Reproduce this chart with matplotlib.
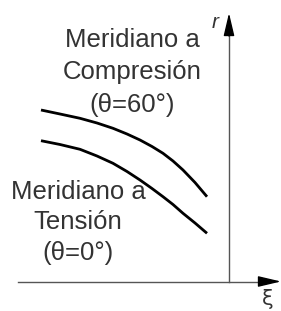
import matplotlib.pyplot as plt
import numpy as np

# curve points, in pixel coords (x right, y down)
curve_x = [41, 60, 80, 97, 113, 127, 140, 152, 163, 173, 183, 195, 207]
upper_y = [110, 114, 118.3, 123, 128.3, 134, 140, 146.5, 153.3, 161, 170, 182.5, 196.7]
lower_y = [140.7, 144.5, 149.3, 156, 163.3, 171.5, 180, 188.5, 196.7, 204.5, 213.3, 223, 233.3]

comp_lines = ["Meridiano a", "Compresión", "(θ=60°)"]
tens_lines = ["Meridiano a", "Tensión", "(θ=0°)"]

W, H = 281, 311
fig = plt.figure(figsize=(W / 100, H / 100), dpi=100)
ax = fig.add_axes([0, 0, 1, 1])
ax.set_xlim(0, W)
ax.set_ylim(H, 0)
ax.axis("off")

plt.rcParams["font.family"] = ["Liberation Sans", "DejaVu Sans"]
txt = dict(fontsize=18.5, color="#333333", ha="center", va="center")

# axes with arrows
ax.plot([18, 266], [281.5, 281.5], color="#555555", lw=1.0)
ax.plot([229, 229], [281.5, 30], color="#555555", lw=1.0)
head = "-|>,head_length=1.4,head_width=0.33"
ax.annotate("", xy=(281, 281.5), xytext=(262, 281.5),
            arrowprops=dict(arrowstyle=head, color="black", lw=1.0,
                            mutation_scale=10, shrinkA=0, shrinkB=0))
ax.annotate("", xy=(229, 13), xytext=(229, 36),
            arrowprops=dict(arrowstyle=head, color="black", lw=1.0,
                            mutation_scale=10, shrinkA=0, shrinkB=0))

ax.text(268, 299, "ξ", fontsize=15, color="#333333", ha="center", va="center",
        family="DejaVu Sans")
ax.text(215, 22, "r", fontsize=15, color="#333333", ha="center", va="center",
        style="italic")

# meridian curves
ax.plot(curve_x, upper_y, color="black", lw=2.0, solid_capstyle="butt")
ax.plot(curve_x, lower_y, color="black", lw=2.0, solid_capstyle="butt")

for y, s in zip([40, 72, 105], comp_lines):
    ax.text(132, y, s, **txt)
for y, s in zip([192, 222, 253], tens_lines):
    ax.text(78, y, s, **txt)

fig.savefig("out.png", dpi=100, facecolor="white")
